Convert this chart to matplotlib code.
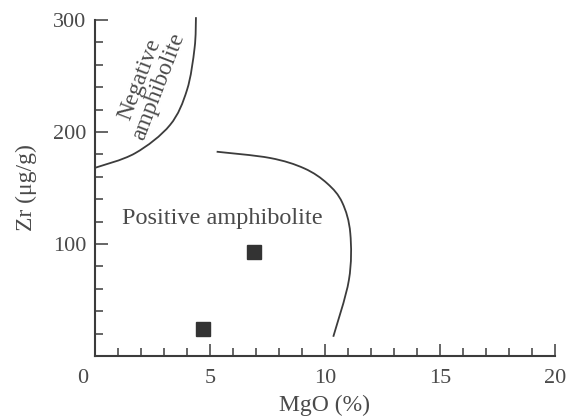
import matplotlib
matplotlib.use("Agg")
import matplotlib.pyplot as plt
import matplotlib.transforms as mtransforms
import numpy as np
from matplotlib.patches import PathPatch
from matplotlib.path import Path
from matplotlib.ticker import MultipleLocator

plt.rcParams["font.family"] = ["Liberation Serif", "DejaVu Serif"]

# sample points
mgo = [4.7, 6.9]
zr = [24, 93]

# field boundaries
neg_x = [0.0, 1.74, 3.26, 4.0, 4.33, 4.39]
neg_y = [168, 181, 206.2, 237.5, 275, 302.5]
pos_x = [5.29, 7.61, 9.1, 10.1, 10.75, 11.1, 11.04, 10.36]
pos_y = [182.4, 176.8, 167.5, 154, 137, 109.6, 67.9, 17.2]

x_ticks = [0, 5, 10, 15, 20]
y_ticks = [100, 200, 300]

line_col = "#3c3c3c"
text_col = "#4a4a4a"


def smooth_boundary(ax, xs, ys, **kw):
    """Draw a curve through the points as Catmull-Rom style bezier segments."""
    pts = ax.transData.transform(np.column_stack([xs, ys]))
    verts = [pts[0]]
    codes = [Path.MOVETO]
    n = len(pts)
    for i in range(n - 1):
        p0 = pts[max(i - 1, 0)]
        p1 = pts[i]
        p2 = pts[i + 1]
        p3 = pts[min(i + 2, n - 1)]
        verts += [p1 + (p2 - p0) / 6, p2 - (p3 - p1) / 6, p2]
        codes += [Path.CURVE4] * 3
    verts = ax.transData.inverted().transform(np.array(verts))
    patch = PathPatch(Path(verts, codes), fill=False, **kw)
    ax.add_patch(patch)


fig = plt.figure(figsize=(5.75, 4.18), dpi=100)
ax = fig.add_axes([0.1652, 0.1483, 0.80, 0.8039])
ax.set_xlim(0, 20)
ax.set_ylim(0, 300)

smooth_boundary(ax, neg_x, neg_y, edgecolor=line_col, lw=1.3, clip_on=False)
smooth_boundary(ax, pos_x, pos_y, edgecolor=line_col, lw=1.3)
ax.plot(mgo, zr, ls="none", marker="s", ms=9.5, mfc="#333333", mec="#333333")

ax.text(5.55, 123, "Positive amphibolite", fontsize=17.5, color=text_col,
        ha="center", va="center")
ax.text(2.35, 244, "Negative\namphibolite", fontsize=17, color=text_col,
        ha="center", va="center", rotation=69, linespacing=0.95)

for side in ("top", "right"):
    ax.spines[side].set_visible(False)
for side in ("left", "bottom"):
    ax.spines[side].set_linewidth(1.5)
    ax.spines[side].set_color(line_col)

ax.set_xticks(x_ticks)
ax.set_xticklabels([str(t) for t in x_ticks])
ax.set_yticks(y_ticks)
ax.set_yticklabels([str(t) for t in y_ticks])
ax.xaxis.set_minor_locator(MultipleLocator(1))
ax.yaxis.set_minor_locator(MultipleLocator(20))
ax.tick_params(which="major", direction="in", length=9, width=1.1,
               color=line_col, labelcolor=text_col, labelsize=16, pad=9)
ax.tick_params(which="minor", direction="in", length=5.5, width=1.1,
               color=line_col)
ax.tick_params(axis="y", which="major", pad=6)

# origin label sits left of the corner
shift = mtransforms.ScaledTranslation(-12 / 100, 0, fig.dpi_scale_trans)
lab0 = ax.get_xticklabels()[0]
lab0.set_transform(lab0.get_transform() + shift)

ax.set_xlabel("MgO (%)", fontsize=17, color=text_col, labelpad=5)
ax.set_ylabel("Zr (μg/g)", fontsize=17, color=text_col, labelpad=12)

fig.savefig("out.png", dpi=100)
